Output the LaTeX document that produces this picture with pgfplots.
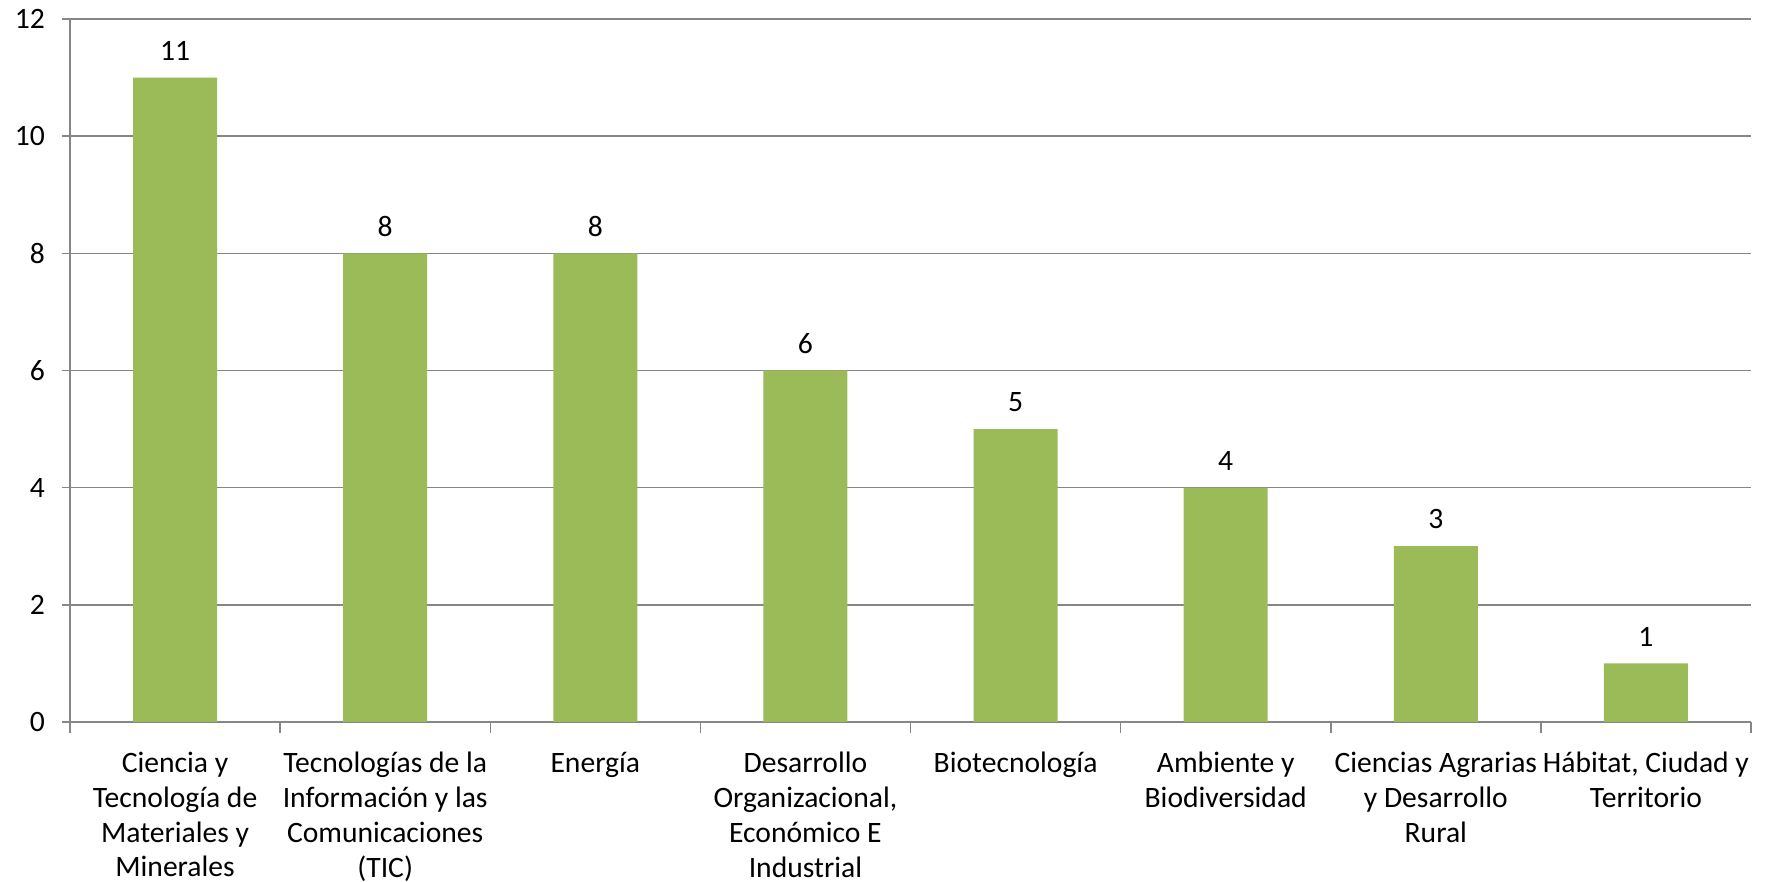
\documentclass[border=0pt]{standalone}
\usepackage{pgfplots}
\pgfplotsset{compat=1.18}
\usepackage{fontspec}
\setmainfont{Carlito}
\definecolor{barGreen}{HTML}{9BBB59}
\definecolor{gridGray}{HTML}{868686}

\begin{document}
\begin{tikzpicture}
\useasboundingbox (-35pt,-80pt) rectangle (847.5pt,361pt);
\begin{axis}[
  at={(0,0)}, anchor=south west,
  scale only axis,
  width=840.5pt, height=351.5pt,
  ybar, bar width=42pt,
  xmin=-0.5, xmax=7.5,
  ymin=0, ymax=12,
  ytick={0,2,...,12},
  xtick={0,...,7},
  xticklabels={
    {Ciencia y\\Tecnología de\\Materiales y\\Minerales},
    {Tecnologías de la\\Información y las\\Comunicaciones\\(TIC)},
    {Energía},
    {Desarrollo\\Organizacional,\\Económico E\\Industrial},
    {Biotecnología},
    {Ambiente y\\Biodiversidad},
    {Ciencias Agrarias\\y Desarrollo\\Rural},
    {Hábitat, Ciudad y\\Territorio}},
  minor xtick={-0.5,0.5,...,7.5},
  major x tick style={draw=none},
  tick align=outside,
  major tick length=4pt,
  minor tick length=5.5pt,
  tick style={gridGray, line width=0.75pt},
  axis x line*=bottom, axis y line*=left,
  axis line style={gridGray, line width=0.75pt, -},
  ymajorgrids,
  major grid style={gridGray, line width=0.75pt},
  /pgf/number format/assume math mode=true,
  tick label style={font=\fontsize{14.8}{17.4}\selectfont, text=black},
  xticklabel style={align=center, yshift=-7.5pt},
  yticklabel style={xshift=-5pt},
  nodes near coords,
  every node near coord/.append style={font=\fontsize{14.8}{17.4}\selectfont, text=black, yshift=5pt},
]
\addplot[fill=barGreen, draw=none] coordinates {
  (0,11) (1,8) (2,8) (3,6) (4,5) (5,4) (6,3) (7,1)
};
\end{axis}
\end{tikzpicture}
\end{document}
